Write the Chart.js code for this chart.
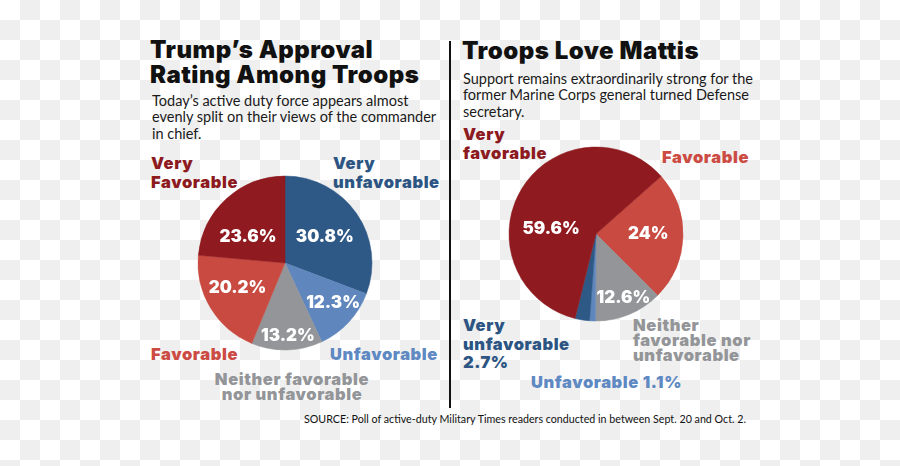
<!DOCTYPE html>
<html>
<head>
<meta charset="utf-8">
<script src="https://cdn.jsdelivr.net/npm/chart.js@4.4.1/dist/chart.umd.min.js"></script>
<style>
  html, body {
    margin: 0;
    padding: 0;
  }
  body {
    width: 900px;
    height: 466px;
    position: relative;
    overflow: hidden;
    font-family: "Lato", sans-serif;
    background: repeating-conic-gradient(#efefef 0 25%, #ffffff 0 50%) 0 0 / 40px 40px;
  }
  .t {
    position: absolute;
    white-space: nowrap;
    margin: 0;
  }
  .title {
    font-family: "Inter", sans-serif;
    font-weight: 900;
    font-size: 24px;
    line-height: 25px;
    letter-spacing: 0.5px;
    color: #111;
  }
  .sub {
    font-size: 14.5px;
    line-height: 16.3px;
    color: #1a1a1a;
  }
  .cat {
    font-family: "Inter", sans-serif;
    font-weight: 900;
    font-size: 16.5px;
    line-height: 18.7px;
    letter-spacing: 0.6px;
  }
  .tight { line-height: 15px; }
  .dred { color: #8d1a1e; }
  .red { color: #cc4b43; }
  .dblue { color: #2c5583; }
  .lblue { color: #5f89c2; }
  .gray { color: #939598; }
  #divider {
    position: absolute;
    left: 449px;
    top: 41px;
    width: 2px;
    height: 367px;
    background: #111;
  }
  canvas { position: absolute; }
</style>
</head>
<body>

<div class="t title" style="left:150px; top:37px;">Trump’s Approval<br>Rating Among Troops</div>
<div class="t sub" style="left:152px; top:93px;">Today’s active duty force appears almost<br>evenly split on their views of the commander<br>in chief.</div>

<div class="t title" style="left:462px; top:38px;">Troops Love Mattis</div>
<div class="t sub" style="left:463px; top:71px;">Support remains extraordinarily strong for the<br>former Marine Corps general turned Defense<br>secretary.</div>

<div id="divider"></div>

<!-- left pie labels -->
<div class="t cat dred" style="left:151px; top:154px;">Very<br>Favorable</div>
<div class="t cat dblue" style="left:333px; top:154px;">Very<br>unfavorable</div>
<div class="t cat red" style="left:151px; top:345px;">Favorable</div>
<div class="t cat lblue" style="left:330px; top:345px;">Unfavorable</div>
<div class="t cat gray tight" style="left:192px; width:200px; text-align:center; top:372px;">Neither favorable<br>nor unfavorable</div>

<!-- right pie labels -->
<div class="t cat dred" style="left:463px; top:125px;">Very<br>favorable</div>
<div class="t cat red" style="left:662px; top:148px;">Favorable</div>
<div class="t cat dblue" style="left:463px; top:316px;">Very<br>unfavorable<br>2.7%</div>
<div class="t cat gray tight" style="left:633px; top:318px;">Neither<br>favorable nor<br>unfavorable</div>
<div class="t cat lblue" style="left:531px; top:373px;">Unfavorable 1.1%</div>

<div class="t" style="left:304px; top:412px; font-size:10.7px; color:#111;">SOURCE: Poll of active-duty Military Times readers conducted in between Sept. 20 and Oct. 2.</div>

<canvas id="trump" width="240" height="240" style="left:165px; top:143px;"></canvas>
<canvas id="mattis" width="240" height="240" style="left:476px; top:114px;"></canvas>

<script>
// Trump approval among troops (clockwise from 12 o'clock)
const trumpLabels = ["Very unfavorable", "Unfavorable", "Neither favorable nor unfavorable", "Favorable", "Very favorable"];
const trumpValues = [30.8, 12.3, 13.2, 20.2, 23.6];

// Mattis approval (clockwise, starting at the Favorable slice)
const mattisLabels = ["Favorable", "Neither favorable nor unfavorable", "Unfavorable", "Very unfavorable", "Very favorable"];
const mattisValues = [24, 12.6, 1.1, 2.7, 59.6];

const sliceColors = {
    "Very favorable": "#8f1a1f",
    "Favorable": "#c84a41",
    "Neither favorable nor unfavorable": "#939598",
    "Unfavorable": "#6087bd",
    "Very unfavorable": "#2e5987"
};

// draws the % value inside each slice
const sliceText = {
    id: "sliceText",
    afterDatasetsDraw(chart, args, opts) {
        const ctx = chart.ctx;
        const meta = chart.getDatasetMeta(0);
        const values = chart.data.datasets[0].data;
        ctx.save();
        ctx.fillStyle = "#ffffff";
        ctx.font = "900 17px Inter";
        ctx.textAlign = "center";
        ctx.textBaseline = "middle";
        meta.data.forEach((arc, i) => {
            if (values[i] < 5) return;
            const p = arc.getProps(["x", "y", "startAngle", "endAngle", "outerRadius"], true);
            const a = (p.startAngle + p.endAngle) / 2 + (opts.turn[i] || 0) * Math.PI / 180;
            const r = p.outerRadius * opts.radius[i];
            ctx.fillText(values[i] + "%", p.x + Math.cos(a) * r, p.y + Math.sin(a) * r + 1);
        });
        ctx.restore();
    }
};

function makePie(id, labels, values, rotation, radius, turn) {
    const colors = labels.map(l => sliceColors[l]);
    return new Chart(document.getElementById(id), {
        type: "pie",
        data: {
            labels: labels,
            datasets: [{
                data: values,
                backgroundColor: colors,
                borderColor: colors,
                borderWidth: 0.5,
                radius: 87
            }]
        },
        options: {
            responsive: false,
            animation: false,
            events: [],
            rotation: rotation,
            layout: { padding: 0 },
            plugins: {
                legend: { display: false },
                tooltip: { enabled: false },
                sliceText: { radius: radius, turn: turn }
            }
        },
        plugins: [sliceText]
    });
}

makePie("trump", trumpLabels, trumpValues, 0,
    [0.556, 0.71, 0.83, 0.61, 0.53],
    [0, -4, -1, 4.6, -11]);

makePie("mattis", mattisLabels, mattisValues, 48.5,
    [0.6, 0.79, 0, 0, 0.52],
    [-3.4, -1, 0, 0, -23.8]);
</script>
</body>
</html>
